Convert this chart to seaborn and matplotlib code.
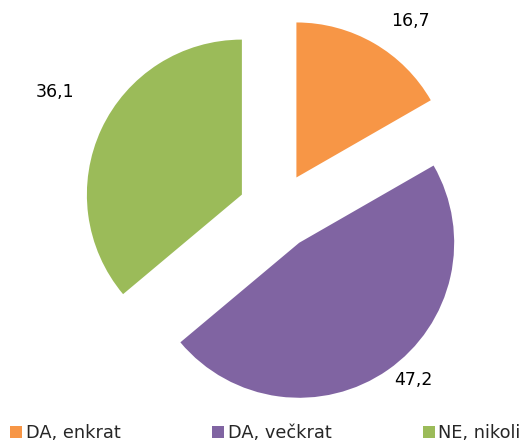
import numpy as np
import seaborn as sns
import matplotlib.pyplot as plt
from matplotlib.patches import Patch

# podatki
kategorije = ["DA, enkrat", "DA, večkrat", "NE, nikoli"]
vrednosti = [16.7, 47.2, 36.1]
oznake = ["16,7", "47,2", "36,1"]
barve = ["#F79646", "#8064A2", "#9BBB59"]

sns.set_theme(style="white")
plt.rcParams["font.family"] = ["DejaVu Sans"]

fig = plt.figure(figsize=(5.31, 4.44), dpi=100)
ax = fig.add_axes([0, 0, 1, 1])

wedges, texts = ax.pie(vrednosti, labels=oznake, colors=barve, startangle=90,
                       counterclock=False, explode=[0.25] * 3,
                       labeldistance=1.2, radius=1.0,
                       textprops={"fontsize": 12.5, "color": "black"},
                       wedgeprops={"linewidth": 0})

# okvir osi: 1 enota = 155 px, sredina pite pri (277, 211) px
ax.set_xlim(-277 / 155, 254 / 155)
ax.set_ylim(-233 / 155, 211 / 155)
ax.set_aspect("equal")
ax.axis("off")

# polozaji oznak (v px od zgornjega levega kota)
polozaji = [(410, 21), (413, 380), (55, 92)]
for t, (px, py) in zip(texts, polozaji):
    t.set_position(((px - 277) / 155, (211 - py) / 155))
    t.set_ha("center")
    t.set_va("center")

roc = [Patch(facecolor=c, edgecolor="none") for c in barve]
fig.legend(roc, kategorije, loc="lower left", bbox_to_anchor=(0.012, -0.004),
           ncol=3, frameon=False, fontsize=12.8, handlelength=0.68,
           handleheight=0.68, handletextpad=0.2, columnspacing=5.15,
           borderaxespad=0.0, borderpad=0.2)

fig.savefig("out.png", dpi=100)
